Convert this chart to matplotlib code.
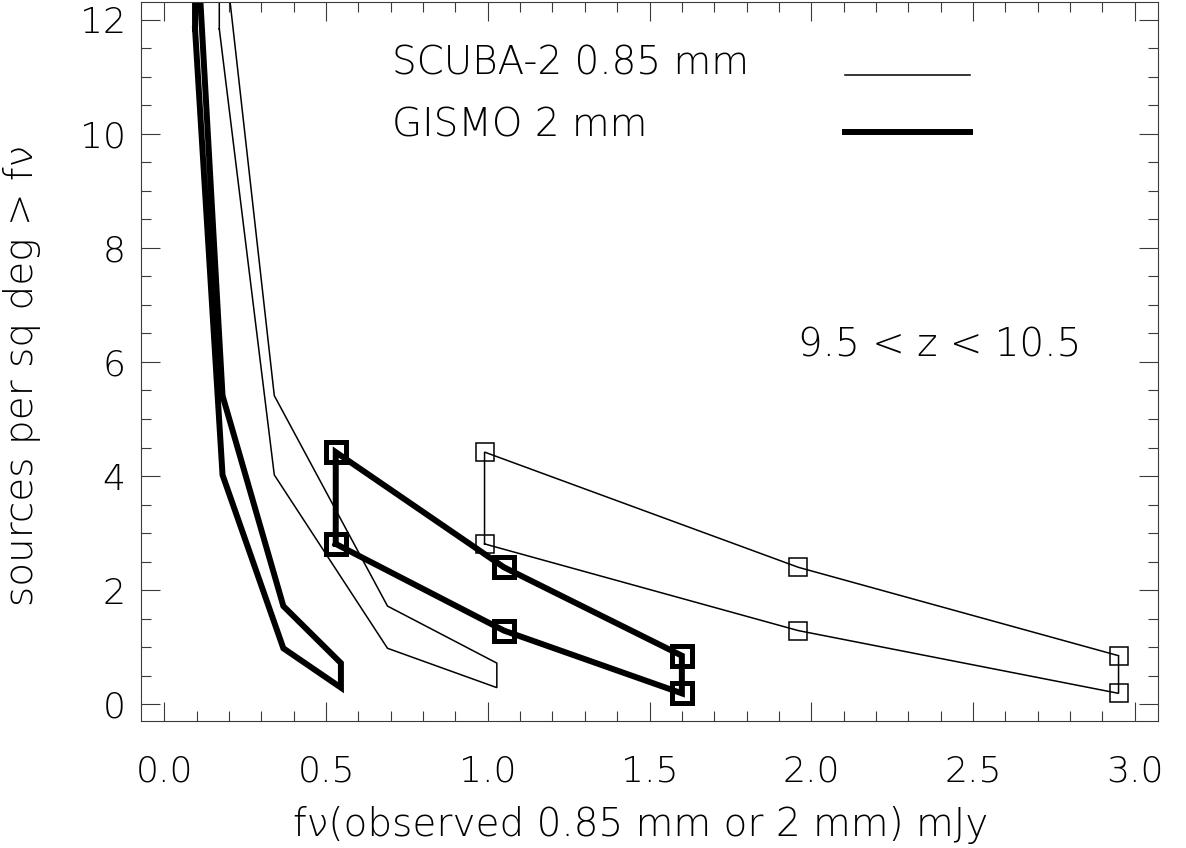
import matplotlib
matplotlib.use("Agg")
import matplotlib.pyplot as plt
import numpy as np
from matplotlib import font_manager as fm
from matplotlib.ticker import FormatStrFormatter, MultipleLocator


# ── Number counts, 9.5 < z < 10.5 ─────────────────────────────────────
# lower / upper envelope of the cumulative counts (sources per sq deg)
counts_lo = [11.84, 4.02, 0.98, 0.29]
counts_hi = [14.0, 5.41, 1.72, 0.72]
flux_scuba = [0.170, 0.340, 0.690, 1.028]   # observed 0.85 mm, mJy
flux_gismo = [0.095, 0.180, 0.368, 0.546]   # observed 2 mm, mJy

# bright-end sample points (squares)
pts_lo = [2.81, 1.29, 0.19]
pts_hi = [4.42, 2.40, 0.85]
pts_scuba = [0.99, 1.96, 2.95]
pts_gismo = [0.53, 1.05, 1.60]

legend_labels = ["SCUBA-2 0.85 mm", "GISMO 2 mm"]
z_label = "9.5 < z < 10.5"
x_label = "f\u03bd(observed 0.85 mm or 2 mm) mJy"
y_label = "sources per sq deg > f\u03bd"


def pick_light_font():
    """Thin-stroked family if one is installed, otherwise plain DejaVu."""
    for fam in ["DejaVu Sans", "Open Sans", "Roboto", "Lato", "Noto Sans", "Inter"]:
        best = None
        for f in fm.fontManager.ttflist:
            if f.name != fam or f.style != "normal":
                continue
            w = f.weight if isinstance(f.weight, int) else fm.weight_dict.get(f.weight, 400)
            if w <= 300 and (best is None or w > best):
                best = w
        if best is not None:
            return fam, best
    return "DejaVu Sans", 400


fam, weight = pick_light_font()
plt.rcParams["font.family"] = [fam, "DejaVu Sans"]
plt.rcParams["font.weight"] = weight

FS_TICK = 26
FS_TEXT = 28
AX_COL = "#3a3a3a"


def envelope(x, lo, hi):
    """Closed outline: lower curve out, upper curve back, joined at both ends."""
    x = np.asarray(x)
    return (np.r_[x, x[::-1], x[:1]],
            np.r_[lo, hi[::-1], lo[:1]])


fig = plt.figure(figsize=(11.86, 8.48), dpi=100)
ax = fig.add_axes([0.1189, 0.1501, 0.8575, 0.8481])

thin = dict(color="black", lw=1.1, solid_joinstyle="miter")
bold = dict(color="black", lw=4.3, solid_joinstyle="miter")

# envelopes of the count curves
ax.plot(*envelope(flux_scuba, counts_lo, counts_hi), **thin)
ax.plot(*envelope(flux_gismo, counts_lo, counts_hi), **bold)

# bright-end sample points
ax.plot(*envelope(pts_scuba, pts_lo, pts_hi), **thin)
ax.plot(*envelope(pts_gismo, pts_lo, pts_hi), **bold)
ax.plot(pts_scuba + pts_scuba, pts_lo + pts_hi, ls="none", marker="s",
        ms=13.3, mfc="none", mec="black", mew=1.1)
ax.plot(pts_gismo + pts_gismo, pts_lo + pts_hi, ls="none", marker="s",
        ms=15, mfc="none", mec="black", mew=3.6)

# legend, drawn by hand
ax.plot([2.104, 2.490], [11.04, 11.04], **thin)
ax.plot([2.104, 2.490], [10.03, 10.03], **bold)
ax.text(0.704, 11.04, legend_labels[0], fontsize=FS_TEXT, va="baseline", ha="left")
ax.text(0.704, 9.96, legend_labels[1], fontsize=FS_TEXT, va="baseline", ha="left")
ax.text(2.398, 6.09, z_label, fontsize=FS_TEXT, va="baseline", ha="center")

ax.set_xlim(-0.072, 3.072)
ax.set_ylim(-0.29, 12.32)
ax.xaxis.set_major_locator(MultipleLocator(0.5))
ax.xaxis.set_minor_locator(MultipleLocator(0.1))
ax.yaxis.set_major_locator(MultipleLocator(2))
ax.yaxis.set_minor_locator(MultipleLocator(0.5))
ax.xaxis.set_major_formatter(FormatStrFormatter("%.1f"))
ax.yaxis.set_major_formatter(FormatStrFormatter("%d"))

ax.tick_params(which="both", direction="in", top=True, right=True,
               color=AX_COL, width=0.8, labelsize=FS_TICK)
ax.tick_params(which="major", length=14)
ax.tick_params(which="minor", length=7)
ax.tick_params(axis="x", pad=24)
ax.tick_params(axis="y", pad=11)
for sp in ax.spines.values():
    sp.set_color(AX_COL)
    sp.set_linewidth(0.8)

ax.text(0.491, -0.1604, x_label, transform=ax.transAxes, fontsize=FS_TEXT,
        ha="center", va="baseline")
ax.text(-0.1062, 0.48, y_label, transform=ax.transAxes, fontsize=FS_TEXT,
        ha="center", va="baseline", rotation=90, rotation_mode="anchor")

fig.savefig("out.png", dpi=100)
